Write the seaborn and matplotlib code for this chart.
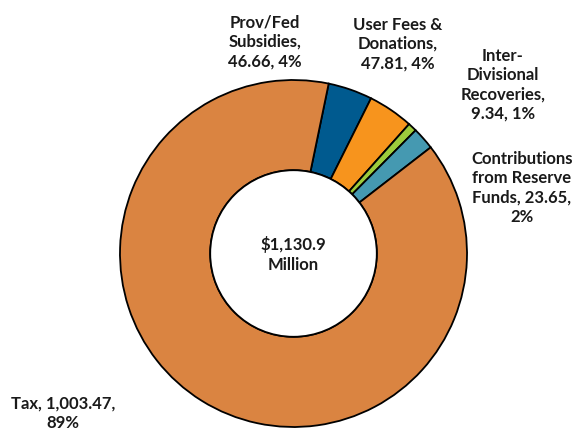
import matplotlib
matplotlib.use("Agg")
import matplotlib.pyplot as plt
import seaborn as sns

categories = ["Prov/Fed\nSubsidies", "User Fees &\nDonations", "Inter-\nDivisional\nRecoveries",
              "Contributions\nfrom Reserve\nFunds", "Tax"]
values = [46.66, 47.81, 9.34, 23.65, 1003.47]
percent_labels = ["4%", "4%", "1%", "2%", "89%"]
value_labels = ["46.66", "47.81", "9.34", "23.65", "1,003.47"]
center_label = "$1,130.9\nMillion"
colors = ["#005A8F", "#F7941D", "#9DCB3C", "#4599B1", "#DA8441"]

sns.set_theme(style="white")
plt.rcParams['font.family'] = ['Lato', 'DejaVu Sans']

W, H = 577, 432
fig = plt.figure(figsize=(W / 100, H / 100), dpi=100)
ax = fig.add_axes([0, 0, 1, 1])
ax.set_xlim(0, W)
ax.set_ylim(0, H)
ax.set_aspect("equal")
ax.axis("off")

cx, cy = 293.5, H - 253.5
R = 173.5
ax.pie(values, colors=colors, startangle=90 - 11.7, counterclock=False,
       center=(cx, cy), radius=R, frame=True,
       wedgeprops=dict(width=R * 0.52, edgecolor="black", linewidth=1.3))
ax.set_xlim(0, W)
ax.set_ylim(0, H)
ax.axis("off")

# inner hole outline
hole = plt.Circle((cx, cy), R * 0.48, facecolor="white", edgecolor="black", linewidth=1.3)
ax.add_patch(hole)

texts = [
    "Prov/Fed\nSubsidies,\n%s, %s" % (value_labels[0], percent_labels[0]),
    "User Fees &\nDonations,\n%s, %s" % (value_labels[1], percent_labels[1]),
    "Inter-\nDivisional\nRecoveries,\n%s, %s" % (value_labels[2], percent_labels[2]),
    "Contributions\nfrom Reserve\nFunds, %s,\n%s" % (value_labels[3], percent_labels[3]),
    "Tax, %s,\n%s" % (value_labels[4], percent_labels[4]),
]
positions = [(265, 42), (398, 44), (503, 85), (522, 188), (63, 413)]
for t, (x, y) in zip(texts, positions):
    ax.text(x, H - y, t, ha="center", va="center", fontsize=12, fontweight="bold",
            color="#1a1a1a", linespacing=1.25)

ax.text(cx, H - 254.5, center_label, ha="center", va="center", fontsize=12,
        fontweight="bold", color="#1a1a1a", linespacing=1.25)

fig.savefig("out.png", dpi=100)
